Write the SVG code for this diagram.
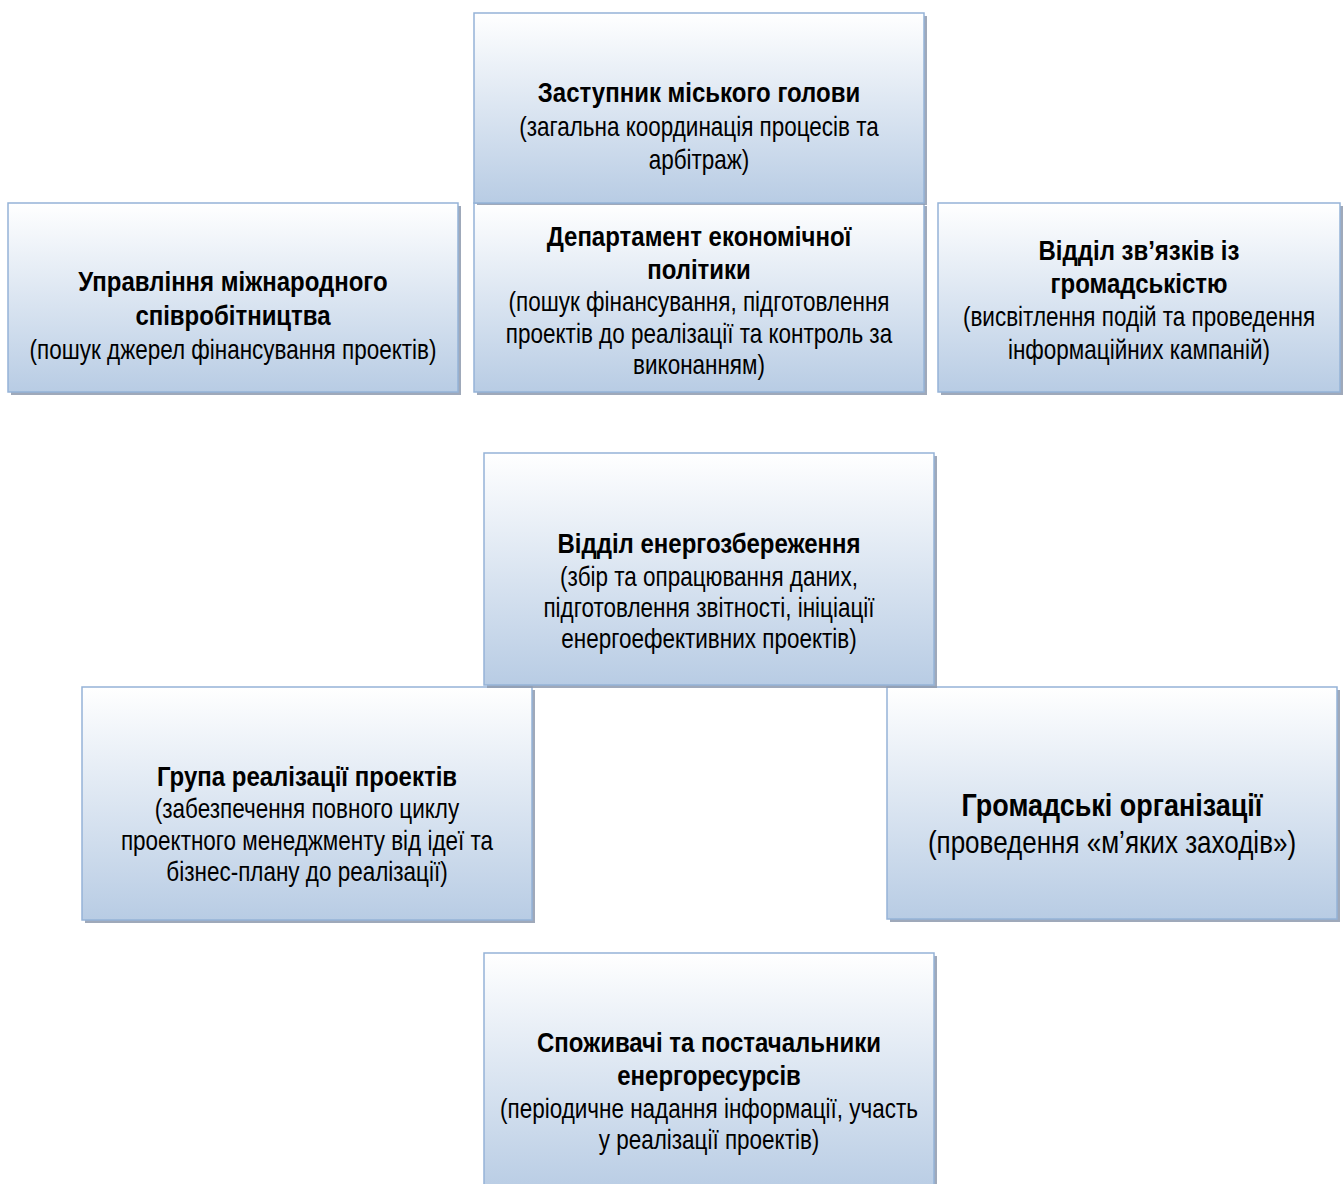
<svg xmlns="http://www.w3.org/2000/svg" width="1343" height="1184" viewBox="0 0 1343 1184">
<style>
.shadow{fill:#8e9aae;opacity:0.85}
.box{fill:url(#grad);stroke:#95b3d7;stroke-width:1.5}
text{font-family:"Liberation Sans",Arial,sans-serif;fill:#000;text-anchor:middle}
.t{font-weight:bold;font-size:28px}
.d{font-size:27px}
.tb{font-weight:bold;font-size:32px}
.db{font-size:31px}
</style>
<defs>
<linearGradient id="grad" x1="0" y1="0" x2="0" y2="1">
<stop offset="0" stop-color="#ffffff"/>
<stop offset="1" stop-color="#b8cce4"/>
</linearGradient>
</defs>
<rect width="1343" height="1184" fill="#ffffff"/>
<g id="connectors"></g>
<g id="n-mizhnarod">
<rect class="shadow" x="11" y="206" width="450" height="189"/>
<rect class="box" x="8" y="203" width="450" height="189"/>
<text class="t" transform="translate(233,291) scale(0.857,1)">Управління міжнародного</text>
<text class="t" transform="translate(233,325) scale(0.857,1)">співробітництва</text>
<text class="d" transform="translate(233,359) scale(0.833,1)">(пошук джерел фінансування проектів)</text>
</g>
<g id="n-zvyazky">
<rect class="shadow" x="941" y="206" width="402" height="189"/>
<rect class="box" x="938" y="203" width="402" height="189"/>
<text class="t" transform="translate(1139,260) scale(0.857,1)">Відділ зв’язків із</text>
<text class="t" transform="translate(1139,293) scale(0.857,1)">громадськістю</text>
<text class="d" transform="translate(1139,326) scale(0.833,1)">(висвітлення подій та проведення</text>
<text class="d" transform="translate(1139,359) scale(0.833,1)">інформаційних кампаній)</text>
</g>
<g id="n-departament">
<rect class="shadow" x="477" y="206" width="450" height="189"/>
<rect class="box" x="474" y="203" width="450" height="189"/>
<text class="t" transform="translate(699,246) scale(0.857,1)">Департамент економічної</text>
<text class="t" transform="translate(699,279) scale(0.857,1)">політики</text>
<text class="d" transform="translate(699,311) scale(0.833,1)">(пошук фінансування, підготовлення</text>
<text class="d" transform="translate(699,343) scale(0.833,1)">проектів до реалізації та контроль за</text>
<text class="d" transform="translate(699,374) scale(0.833,1)">виконанням)</text>
</g>
<g id="n-zastupnyk">
<rect class="shadow" x="477" y="16" width="450" height="189"/>
<rect class="box" x="474" y="13" width="450" height="190"/>
<text class="t" transform="translate(699,102) scale(0.857,1)">Заступник міського голови</text>
<text class="d" transform="translate(699,136) scale(0.833,1)">(загальна координація процесів та</text>
<text class="d" transform="translate(699,169) scale(0.833,1)">арбітраж)</text>
</g>
<g id="n-grupa">
<rect class="shadow" x="85" y="690" width="450" height="233"/>
<rect class="box" x="82" y="687" width="450" height="233"/>
<text class="t" transform="translate(307,786) scale(0.857,1)">Група реалізації проектів</text>
<text class="d" transform="translate(307,818) scale(0.833,1)">(забезпечення повного циклу</text>
<text class="d" transform="translate(307,850) scale(0.833,1)">проектного менеджменту від ідеї та</text>
<text class="d" transform="translate(307,881) scale(0.833,1)">бізнес-плану до реалізації)</text>
</g>
<g id="n-gromadski">
<rect class="shadow" x="890" y="690" width="450" height="232"/>
<rect class="box" x="887" y="687" width="450" height="232"/>
<text class="tb" transform="translate(1112,816) scale(0.843,1)">Громадські організації</text>
<text class="db" transform="translate(1112,853) scale(0.84,1)">(проведення «м’яких заходів»)</text>
</g>
<g id="n-energo">
<rect class="shadow" x="487" y="456" width="450" height="232"/>
<rect class="box" x="484" y="453" width="450" height="232"/>
<text class="t" transform="translate(709,553) scale(0.857,1)">Відділ енергозбереження</text>
<text class="d" transform="translate(709,586) scale(0.833,1)">(збір та опрацювання даних,</text>
<text class="d" transform="translate(709,617) scale(0.833,1)">підготовлення звітності, ініціації</text>
<text class="d" transform="translate(709,648) scale(0.833,1)">енергоефективних проектів)</text>
</g>
<g id="n-spozhyvachi">
<rect class="shadow" x="487" y="956" width="450" height="240"/>
<rect class="box" x="484" y="953" width="450" height="240"/>
<text class="t" transform="translate(709,1052) scale(0.857,1)">Споживачі та постачальники</text>
<text class="t" transform="translate(709,1085) scale(0.857,1)">енергоресурсів</text>
<text class="d" transform="translate(709,1118) scale(0.833,1)">(періодичне надання інформації, участь</text>
<text class="d" transform="translate(709,1149) scale(0.833,1)">у реалізації проектів)</text>
</g>
</svg>
